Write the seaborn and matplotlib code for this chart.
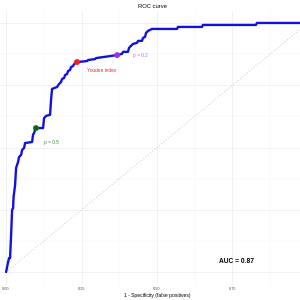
import matplotlib
matplotlib.use("Agg")
import matplotlib.pyplot as plt
import seaborn as sns
import pandas as pd

# ROC curve path (false positive rate, true positive rate)
fpr = [0.0000, 0.0066, 0.0099, 0.0132, 0.0166, 0.0199, 0.0232, 0.0248, 0.0298, 0.0331,
       0.0397, 0.0430, 0.0497, 0.0530, 0.0596, 0.0629, 0.0861, 0.0894, 0.0927, 0.0960,
       0.0993, 0.1225, 0.1258, 0.1325, 0.1457, 0.1490, 0.1523, 0.1689, 0.1755, 0.1821,
       0.1854, 0.1921, 0.1954, 0.2020, 0.2053, 0.2119, 0.2152, 0.2219, 0.2252, 0.2351,
       0.2682, 0.2715, 0.2947, 0.2980, 0.3212, 0.3444, 0.3675, 0.3841, 0.3874, 0.4040,
       0.4073, 0.4139, 0.4205, 0.4338, 0.4371, 0.4503, 0.4536, 0.4603, 0.4636, 0.4702,
       0.4768, 0.4834, 0.5662, 0.5695, 0.6490, 0.6523, 0.8278, 0.8311, 1.0000]
tpr = [0.000, 0.040, 0.056, 0.056, 0.149, 0.249, 0.257, 0.301, 0.349, 0.418,
       0.442, 0.462, 0.470, 0.490, 0.498, 0.518, 0.522, 0.552, 0.558, 0.570,
       0.578, 0.578, 0.618, 0.627, 0.631, 0.691, 0.735, 0.743, 0.755, 0.763,
       0.775, 0.779, 0.791, 0.795, 0.807, 0.811, 0.823, 0.827, 0.835, 0.843,
       0.847, 0.851, 0.855, 0.859, 0.863, 0.867, 0.871, 0.876, 0.884, 0.884,
       0.900, 0.908, 0.916, 0.920, 0.928, 0.928, 0.940, 0.944, 0.960, 0.968,
       0.972, 0.976, 0.976, 0.984, 0.984, 0.992, 0.992, 1.000, 1.000]

# highlighted thresholds
mark_labels = ["p = 0.5", "Youden index", "p = 0.2"]
mark_fpr = [0.099, 0.235, 0.368]
mark_tpr = [0.578, 0.843, 0.871]
mark_colors = ["#0f6b0f", "#ff1a1a", "#a030e0"]
text_colors = ["#3a8f3a", "#e02a2a", "#c060e8"]
text_x = [0.149, 0.318, 0.444]
text_y = [0.522, 0.811, 0.871]

auc_text = "AUC = 0.87"
title = "ROC curve"
xlabel = "1 - Specificity (false positives)"
xticks = [0.0, 0.25, 0.5, 0.75, 1.0]
xticklabels = ["0.00", "0.25", "0.50", "0.75", ""]

sns.set_theme(style="whitegrid")
plt.rcParams['font.family'] = ['Liberation Sans', 'DejaVu Sans']

fig = plt.figure(figsize=(3, 3), dpi=100)
ax = fig.add_axes([-9/300, 15.5/300, 332/300, 274/300])
ax.set_facecolor("white")

df = pd.DataFrame({"fpr": fpr, "tpr": tpr})
ax.plot([0, 1], [0, 1], linestyle=(0, (1, 2)), color="#c8c8c8", lw=0.7, zorder=1)
sns.lineplot(data=df, x="fpr", y="tpr", sort=False, estimator=None,
             color="#1212e0", lw=1.7, ax=ax, zorder=3)

pts = pd.DataFrame({"fpr": mark_fpr, "tpr": mark_tpr, "lab": mark_labels})
sns.scatterplot(data=pts, x="fpr", y="tpr", hue="lab", palette=dict(zip(mark_labels, mark_colors)),
                s=18, edgecolor="none", legend=False, ax=ax, zorder=4)
for lab, tx, ty, c in zip(mark_labels, text_x, text_y, text_colors):
    ax.text(tx, ty, lab, color=c, fontsize=3.4, ha="center", va="center")

ax.text(0.765, 0.044, auc_text, fontsize=4.8, fontweight="bold", ha="center", va="center", color="black")

ax.set_xlim(-0.05, 1.05)
ax.set_ylim(-0.05, 1.05)
ax.set_xticks(xticks)
ax.set_xticklabels(xticklabels, fontsize=2.8, color="#4d4d4d")
ax.set_xticks([0.125, 0.375, 0.625, 0.875], minor=True)
ax.set_yticks([0, 0.25, 0.5, 0.75, 1.0])
ax.set_yticks([0.125, 0.375, 0.625, 0.875], minor=True)
ax.set_yticklabels([])
ax.tick_params(axis="both", which="both", length=0, pad=1.5)
ax.grid(which="major", color="#ebebeb", lw=0.5)
ax.grid(which="minor", color="#f3f3f3", lw=0.3)
for s in ax.spines.values():
    s.set_visible(False)
ax.set_xlabel("")
ax.set_ylabel("")

fig.text(157/300, 1 - 295/300, xlabel, fontsize=3.6, ha="center", va="center", color="black")
fig.text(153/300, 1 - 6/300, title, fontsize=4.2, ha="center", va="center", color="black")

fig.savefig("out.png", dpi=100)
